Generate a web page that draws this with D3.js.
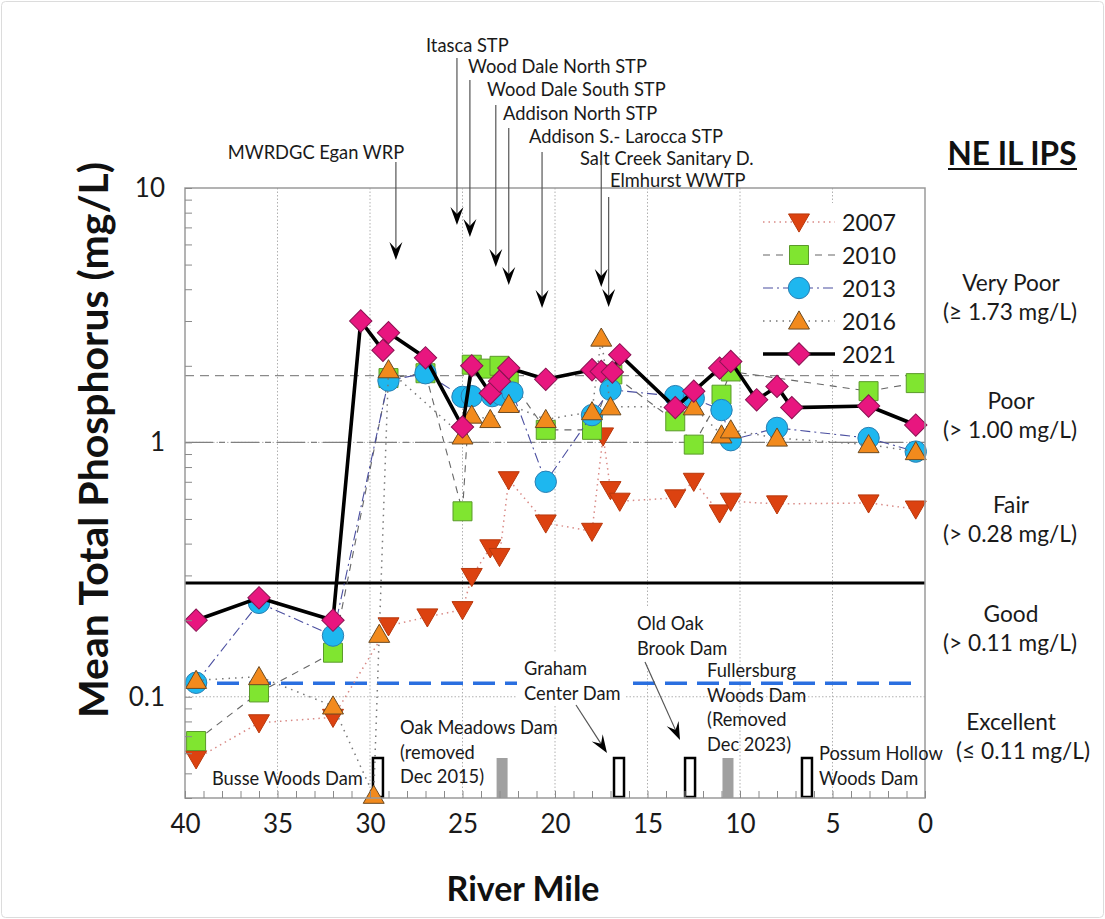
<!DOCTYPE html>
<html><head><meta charset="utf-8">
<script src="https://cdn.jsdelivr.net/npm/d3@7"></script>
<style>body{margin:0;background:#fff}svg{display:block}text{font-family:Lato,'Open Sans',sans-serif}</style>
</head><body><svg id="c" width="1105" height="919"></svg>
<script>
// ---------------- data ----------------
const years = ["2007","2010","2013","2016","2021"];
const miles2007 = [39.4,36.0,32.0,29.0,26.9,25.0,24.5,23.5,23.0,22.5,20.5,18.0,17.4,17.0,16.5,13.5,12.5,11.1,10.5,8.0,3.05,0.5];
const tp2007    = [0.057,0.079,0.083,0.19,0.206,0.22,0.297,0.385,0.356,0.713,0.482,0.447,1.06,0.652,0.587,0.605,0.703,0.528,0.587,0.573,0.578,0.547];
const miles2010 = [39.4,36.0,32.0,29.0,27.0,25.0,24.5,23.6,23.0,22.5,20.5,18.0,16.9,13.5,12.5,11.0,10.5,3.05,0.5];
const tp2010    = [0.067,0.104,0.149,1.79,1.87,0.536,2.02,1.95,2.0,1.80,1.12,1.12,1.85,1.21,0.98,1.54,1.90,1.59,1.71];
const miles2013 = [39.4,36.0,32.0,29.0,27.0,25.0,24.5,23.4,22.9,22.3,20.5,18.0,17.0,13.5,12.5,11.0,10.5,8.0,3.05,0.5];
const tp2013    = [0.1135,0.234,0.174,1.75,1.87,1.51,1.52,1.52,1.54,1.57,0.70,1.28,1.61,1.52,1.49,1.34,1.02,1.14,1.04,0.92];
const miles2016 = [39.4,36.0,32.0,29.8,29.5,29.0,25.0,24.5,23.5,22.5,20.5,18.0,17.5,17.0,12.5,11.0,10.5,8.0,3.05,0.5];
const tp2016    = [0.116,0.120,0.092,0.041,0.176,1.93,1.06,1.28,1.23,1.41,1.23,1.32,2.57,1.38,1.38,1.07,1.12,1.04,0.98,0.92];
const miles2021 = [39.4,36.0,32.0,30.5,29.3,29.0,27.0,25.0,24.5,23.5,23.0,22.5,20.5,18.0,17.5,16.9,16.5,13.5,12.5,11.1,10.5,9.1,8.0,7.2,3.05,0.5];
const tp2021    = [0.20,0.245,0.20,3.0,2.3,2.7,2.15,1.15,2.0,1.56,1.74,1.96,1.77,1.93,1.90,1.89,2.21,1.37,1.59,1.96,2.08,1.47,1.66,1.37,1.39,1.17];

const xTickValues = [40,35,30,25,20,15,10,5,0];
const yTickValues = [10,1,0.1];
const yTickLabels = ["10","1","0.1"];

const veryPoorLine = 1.83, poorLine = 1.0, fairLine = 0.28, goodLine = 0.113;
const classNames  = ["Very Poor","Poor","Fair","Good","Excellent"];
const classRanges = ["(\u2265 1.73 mg/L)","(> 1.00 mg/L)","(> 0.28 mg/L)","(> 0.11 mg/L)","(\u2264 0.11 mg/L)"];

const dischargers = ["MWRDGC Egan WRP","Itasca STP","Wood Dale North STP","Wood Dale South STP","Addison North STP","Addison S.- Larocca STP","Salt Creek Sanitary D.","Elmhurst WWTP"];
const dischargerMiles = [28.6,25.3,24.6,23.2,22.5,20.7,17.5,17.1];

const damNames = [["Busse Woods Dam"],["Oak Meadows Dam","(removed","Dec 2015)"],["Graham","Center Dam"],["Old Oak","Brook Dam"],["Fullersburg","Woods Dam","(Removed","Dec 2023)"],["Possum Hollow","Woods Dam"]];
const damMiles = [29.57,22.86,16.54,12.7,10.65,6.38];
const damRemoved = [false,true,false,false,true,false];

// ---------------- layout / style ----------------
const W=1105,H=919;
const L=185,R=925,T=188,B=798;
const svg=d3.select("#c");
const x=d3.scaleLinear().domain([40,0]).range([L,R]);
const y=d3.scaleLog().domain([0.04,10]).range([B,T]);

svg.append("rect").attr("x",1.5).attr("y",1.5).attr("width",W-3).attr("height",H-3).attr("rx",4)
  .attr("fill","#fff").attr("stroke","#dcdcdc");

// gridlines
const grid=svg.append("g");
grid.selectAll("line.v").data([35,30,25,20,15,10,5]).join("line")
  .attr("x1",d=>x(d)).attr("x2",d=>x(d)).attr("y1",T).attr("y2",B)
  .attr("stroke","#b0b0b0").attr("stroke-width",1).attr("stroke-dasharray","1.5,2");
grid.selectAll("line.h").data([1,0.1]).join("line")
  .attr("x1",L).attr("x2",R).attr("y1",d=>y(d)).attr("y2",d=>y(d))
  .attr("stroke","#b0b0b0").attr("stroke-width",1).attr("stroke-dasharray","1.5,2");

// threshold lines
svg.append("line").attr("x1",L).attr("x2",R).attr("y1",y(veryPoorLine)).attr("y2",y(veryPoorLine))
  .attr("stroke","#8a8a8a").attr("stroke-width",1.2).attr("stroke-dasharray","9,6");
svg.append("line").attr("x1",L).attr("x2",R).attr("y1",y(poorLine)).attr("y2",y(poorLine))
  .attr("stroke","#808080").attr("stroke-width",1.4).attr("stroke-dasharray","28,6,6,6");
svg.append("line").attr("x1",L).attr("x2",R).attr("y1",y(fairLine)).attr("y2",y(fairLine))
  .attr("stroke","#000").attr("stroke-width",3.2);
svg.append("line").attr("x1",L).attr("x2",R-12).attr("y1",y(goodLine)).attr("y2",y(goodLine))
  .attr("stroke","#2a6fe0").attr("stroke-width",3.5).attr("stroke-dasharray","22,10");

// dams
const damG=svg.append("g");
damMiles.forEach((m,i)=>{
  if(damRemoved[i]) damG.append("rect").attr("x",x(m)-5.5).attr("y",758).attr("width",11).attr("height",B-758).attr("fill","#a0a0a0");
  else damG.append("rect").attr("x",x(m)-5).attr("y",758).attr("width",10).attr("height",B-758-1).attr("fill","#fff").attr("stroke","#000").attr("stroke-width",2.5);
});

// series
const seriesData=[[miles2007,tp2007],[miles2010,tp2010],[miles2013,tp2013],[miles2016,tp2016],[miles2021,tp2021]];
const styles={
 "2007":{shape:"down",fill:"#dc4210",stroke:"#b8380c",line:"#d98a86",dash:"1.5,4",lw:1.5},
 "2010":{shape:"square",fill:"#80e530",stroke:"#5b9a2a",line:"#666",dash:"7,6",lw:1.1},
 "2013":{shape:"circle",fill:"#1eb7ef",stroke:"#2a7fb3",line:"#4b4fa0",dash:"10,4,2,4",lw:1.1},
 "2016":{shape:"up",fill:"#f28a1d",stroke:"#6b4a22",line:"#777",dash:"1.5,5",lw:1.5},
 "2021":{shape:"diamond",fill:"#e8167f",stroke:"#8a1252",line:"#000",dash:null,lw:3.6}
};
function marker(g,shape,cx,cy,st){
  let p;
  if(shape==="circle") p=d3.symbol(d3.symbolCircle,360)();
  else if(shape==="square") p=d3.symbol(d3.symbolSquare,360)();
  else if(shape==="diamond") p=d3.symbol(d3.symbolSquare,250)();
  else p=d3.symbol(d3.symbolTriangle,190)();
  let rot = shape==="down"?180:(shape==="diamond"?45:0);
  let dy = shape==="up"?2:(shape==="down"?-2:0);
  g.append("path").attr("d",p).attr("transform",`translate(${cx},${cy+dy}) rotate(${rot})`)
   .attr("fill",st.fill).attr("stroke",st.stroke).attr("stroke-width",1);
}
const line=d3.line().x(d=>x(d[0])).y(d=>y(d[1]));
years.forEach((yr,i)=>{
  const st=styles[yr];
  const pts=seriesData[i][0].map((m,j)=>[m,seriesData[i][1][j]]);
  const g=svg.append("g");
  g.append("path").attr("d",line(pts)).attr("fill","none").attr("stroke",st.line)
   .attr("stroke-width",st.lw).attr("stroke-dasharray",st.dash).attr("stroke-linejoin","round");
  pts.forEach(p=>marker(g,st.shape,x(p[0]),y(p[1]),st));
});

// frame
svg.append("rect").attr("x",L).attr("y",T).attr("width",R-L).attr("height",B-T)
  .attr("fill","none").attr("stroke","#9a9a9a").attr("stroke-width",1.5);

// axes
const minor=[];
[0.01,0.1,1].forEach(dec=>{for(let k=1;k<=9;k++){const v=k*dec; if(v>=0.04&&v<=10.0001) minor.push(v);}});
minor.push(10);
const ya=svg.append("g").attr("transform",`translate(${L},0)`)
  .call(d3.axisLeft(y).tickValues(minor).tickSize(-7).tickPadding(20)
   .tickFormat(d=>{const k=yTickValues.findIndex(v=>Math.abs(v-d)<1e-9);return k>=0?yTickLabels[k]:"";}));
ya.select(".domain").remove();
ya.selectAll("line").attr("stroke","#8a8a8a");
ya.selectAll("text").attr("font-size",26).attr("fill","#1a1a1a").attr("font-family","Lato,'Open Sans',sans-serif");
const xa=svg.append("g").attr("transform",`translate(0,${B})`)
  .call(d3.axisBottom(x).tickValues(d3.range(0,41)).tickSize(-7).tickPadding(17)
   .tickFormat(d=>xTickValues.includes(d)?String(d):""));
xa.select(".domain").remove();
xa.selectAll("line").attr("stroke","#8a8a8a");
xa.selectAll("text").attr("font-size",26).attr("fill","#1a1a1a").attr("font-family","Lato,'Open Sans',sans-serif");

function fit(sel,target){const n=sel.node();const w=n.getComputedTextLength();const fs=parseFloat(sel.attr("font-size"));return fs*target/w;}

// titles
const yt=svg.append("text").attr("transform","translate(92,440) rotate(-90)").attr("text-anchor","middle")
  .attr("dominant-baseline","central").attr("font-weight","bold").attr("font-size",30).attr("fill","#111")
  .text("Mean Total Phosphorus (mg/L)");
yt.attr("font-size",fit(yt,556));
const xt=svg.append("text").attr("x",523).attr("y",887).attr("text-anchor","middle")
  .attr("dominant-baseline","central").attr("font-weight","bold").attr("font-size",30).attr("fill","#111")
  .text("River Mile");
xt.attr("font-size",fit(xt,153));

// NE IL IPS
const ne=svg.append("text").attr("x",1012).attr("y",153).attr("text-anchor","middle").attr("dominant-baseline","central")
  .attr("font-weight","bold").attr("font-size",24).attr("fill","#111").text("NE IL IPS");
ne.attr("font-size",fit(ne,129));
svg.append("line").attr("x1",948).attr("x2",1077).attr("y1",169).attr("y2",169).attr("stroke","#111").attr("stroke-width",2);

// class labels
const clsY=[[282,311],[400,429],[504,533],[613,642],[721,750]];
const clsG=svg.append("g").attr("fill","#1a1a1a");
const clsTexts=[];
classNames.forEach((c,i)=>{
  clsTexts.push(clsG.append("text").attr("x",1011).attr("y",clsY[i][0]).attr("text-anchor","middle").attr("dominant-baseline","central").attr("font-size",19).text(c));
  clsTexts.push(clsG.append("text").attr("x",i===4?1023:1010).attr("y",clsY[i][1]).attr("text-anchor","middle").attr("dominant-baseline","central").attr("font-size",19).text(classRanges[i]));
});
const cfs=fit(clsTexts[3],134);
clsTexts.forEach(t=>t.attr("font-size",cfs));

// legend
const lg=svg.append("g");
lg.append("rect").attr("x",752).attr("y",203).attr("width",170).attr("height",167).attr("fill","#fff");
const legTexts=[];
years.forEach((yr,i)=>{
  const st=styles[yr]; const ly=222+i*33;
  lg.append("line").attr("x1",763).attr("x2",835).attr("y1",ly).attr("y2",ly).attr("stroke",st.line)
    .attr("stroke-width",st.lw).attr("stroke-dasharray",st.dash);
  marker(lg,st.shape,799,ly,st);
  legTexts.push(lg.append("text").attr("x",842).attr("y",ly).attr("dominant-baseline","central").attr("font-size",23).attr("fill","#1a1a1a").text(yr));
});
const lfs=fit(legTexts[0],54);
legTexts.forEach(t=>t.attr("font-size",lfs));

// arrows
function arrow(g,x1,y1,x2,y2){
  const a=Math.atan2(y2-y1,x2-x1);
  g.append("line").attr("x1",x1).attr("y1",y1).attr("x2",x2-10*Math.cos(a)).attr("y2",y2-10*Math.sin(a))
   .attr("stroke","#555").attr("stroke-width",1.2);
  g.append("path").attr("d","M0,0 L-18,-6.5 L-11,0 L-18,6.5 Z").attr("fill","#000")
   .attr("transform",`translate(${x2},${y2}) rotate(${a*180/Math.PI})`);
}
const dLabelPos=[[316,152,"middle"],[426,45,"start"],[468,66,"start"],[487,89,"start"],[503,113,"start"],[529,136,"start"],[580,158,"start"],[610,180,"start"]];
const dArrowY=[[162,260],[58,225],[80,237],[105,267],[128,285],[152,308],[160,287],[197,307]];
const ag=svg.append("g");
const dTexts=[];
dischargers.forEach((d,i)=>{
  dTexts.push(ag.append("text").attr("x",dLabelPos[i][0]).attr("y",dLabelPos[i][1]).attr("text-anchor",dLabelPos[i][2])
    .attr("dominant-baseline","central").attr("font-size",16).attr("fill","#1a1a1a").text(d));
  arrow(ag,x(dischargerMiles[i]),dArrowY[i][0],x(dischargerMiles[i]),dArrowY[i][1]);
});
const afs=fit(dTexts[5],194);
dTexts.forEach(t=>t.attr("font-size",afs));

// dam labels
const damLabelPos=[[212,778],[400,727],[524,668],[637,623],[707,670],[819,753]];
const damBg=[null,null,[517,652,108,52],[630,607,102,58],null,null];
const dg=svg.append("g");
const damTexts=[];
damNames.forEach((lines,i)=>{
  if(damBg[i]) dg.append("rect").attr("x",damBg[i][0]).attr("y",damBg[i][1]).attr("width",damBg[i][2]).attr("height",damBg[i][3]).attr("fill","#fff");
  lines.forEach((ln,k)=>{
    damTexts.push(dg.append("text").attr("x",damLabelPos[i][0]).attr("y",damLabelPos[i][1]+k*24.6)
      .attr("dominant-baseline","central").attr("font-size",17).attr("fill","#1a1a1a").text(ln));
  });
});
const dfs=fit(damTexts[1],158);
damTexts.forEach(t=>t.attr("font-size",dfs));
arrow(dg,576,705,607,753);
arrow(dg,645,662,680,740);
</script></body></html>
